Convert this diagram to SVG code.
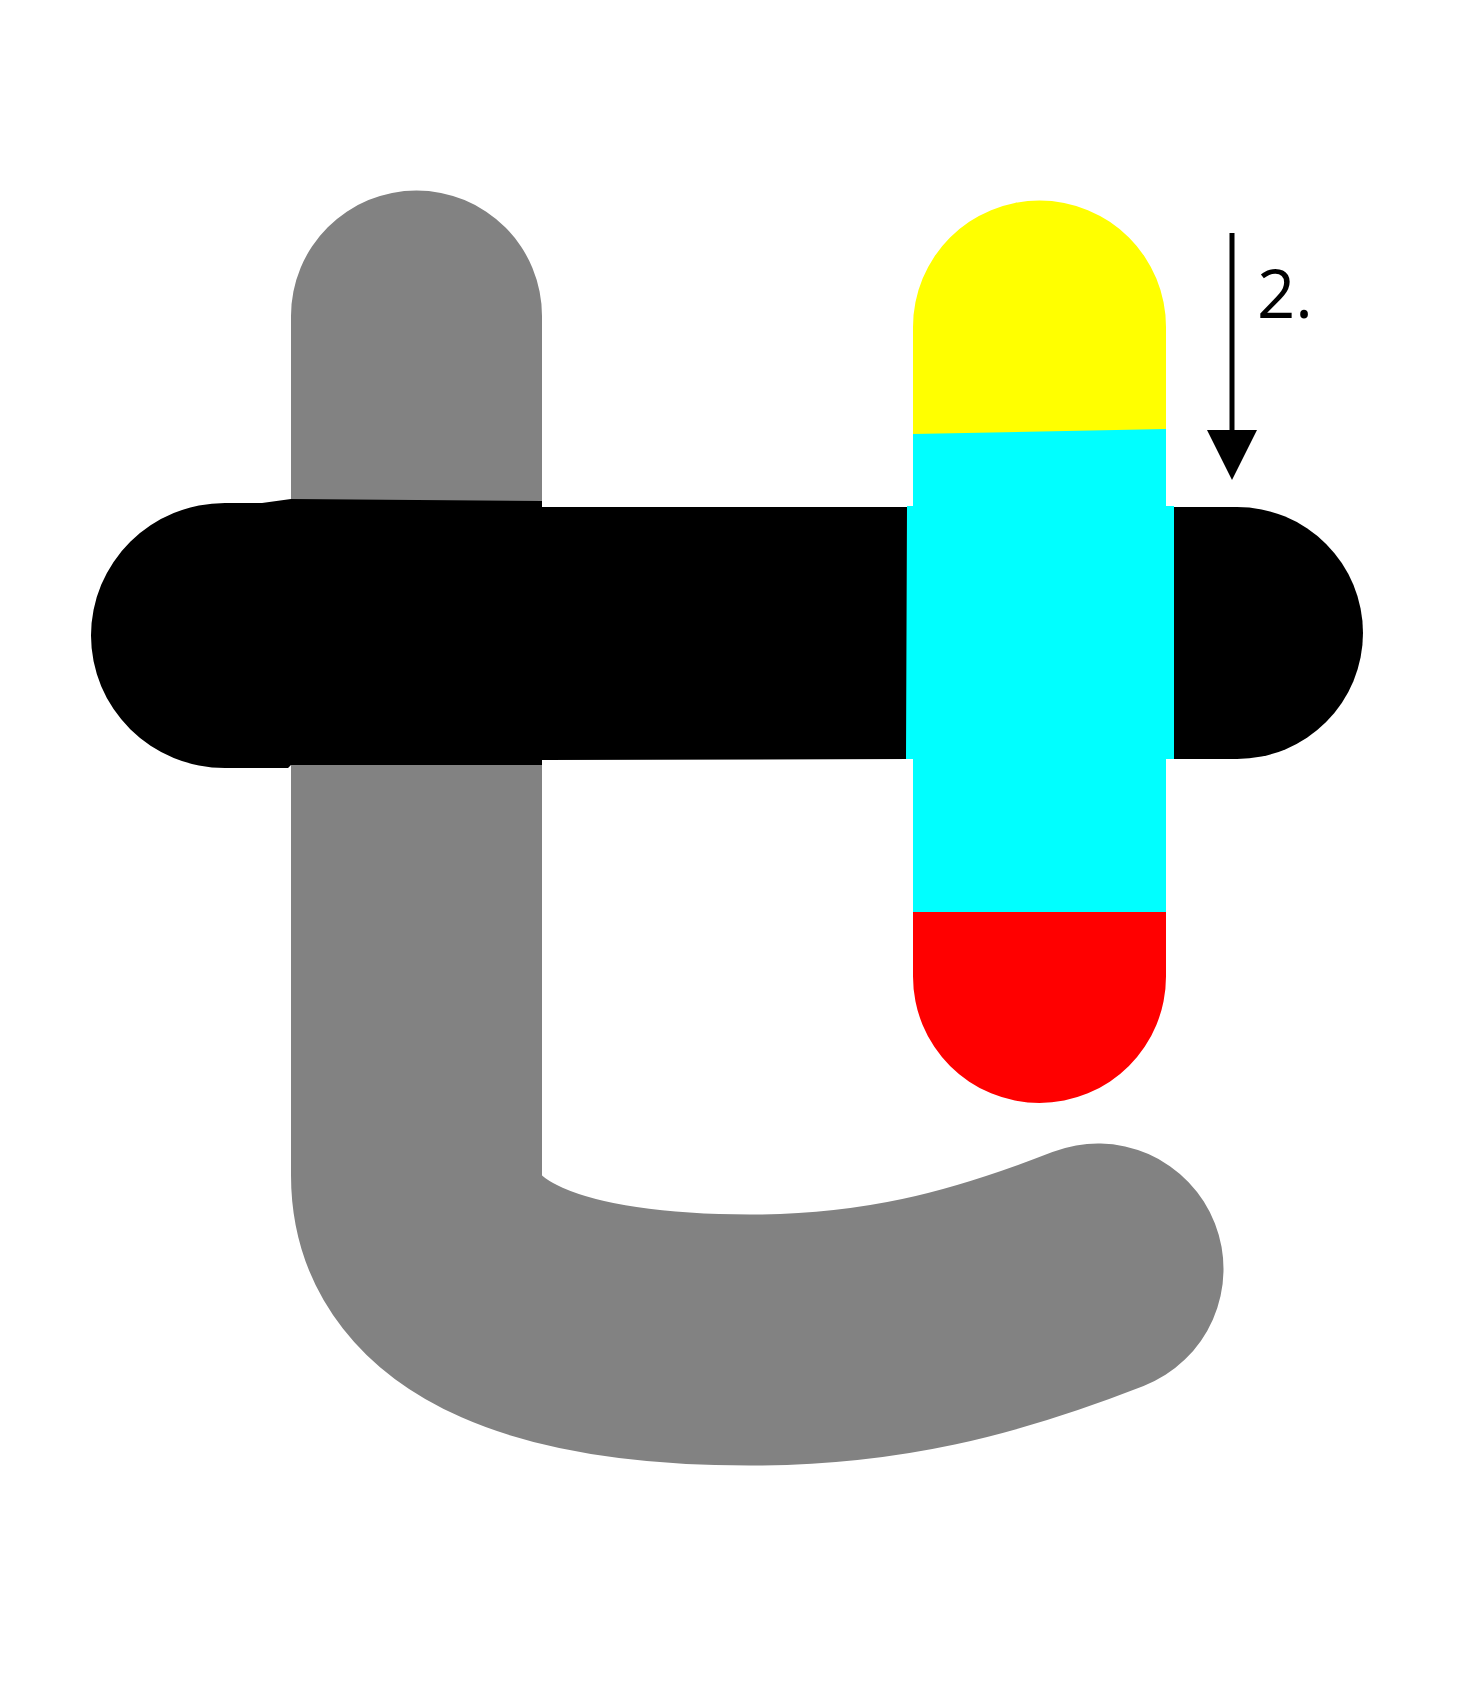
<svg xmlns="http://www.w3.org/2000/svg" width="1474" height="1701" viewBox="0 0 1474 1701">
<style>
.gray{fill:none;stroke:#828282;stroke-width:251;stroke-linecap:round;stroke-linejoin:round}
.blk{fill:#000}
.lbl{font-family:"Open Sans","Noto Sans",sans-serif;font-size:67px;fill:#000}
</style>
<rect width="1474" height="1701" fill="#fff"/>
<g id="gray-hook">
<path class="gray" d="M416.5,316 L416.5,1175 C416.5,1295 560,1340 750,1340 C880,1340 980,1315 1098,1269"/>
</g>
<g id="black-bar">
<path class="blk" d="M225,503 L262,503 L291,499 L542,501 L542,507 L910,507 L910,759 L542,760 L542,765 L291,765 L288,768 L225,768 A134,132.5 0 0 1 225,503 Z"/>
<path class="blk" d="M1170,507 L1237,507 A126,126 0 0 1 1237,759 L1170,759 Z"/>
</g>
<g id="color-bar">
<path fill="#ffff00" d="M913,436 L913,327 A126.5,126.5 0 0 1 1166,327 L1166,431 Z"/>
<path fill="#00ffff" d="M913,434 L1166,429 L1166,506 L1174,506 L1174,759 L1166,759 L1166,913 L913,913 L913,759 L906,759 L907,506 L913,506 Z"/>
<path fill="#ff0000" d="M913,912 L1166,912 L1166,976.5 A126.5,126.5 0 0 1 913,976.5 Z"/>
</g>
<g id="connectors">
<line x1="1232" y1="233" x2="1232" y2="432" stroke="#000" stroke-width="5"/>
<polygon points="1207,430 1257,430 1232,480" fill="#000"/>
</g>
<g id="label">
<text class="lbl" x="1257" y="318">2.</text>
</g>
</svg>
